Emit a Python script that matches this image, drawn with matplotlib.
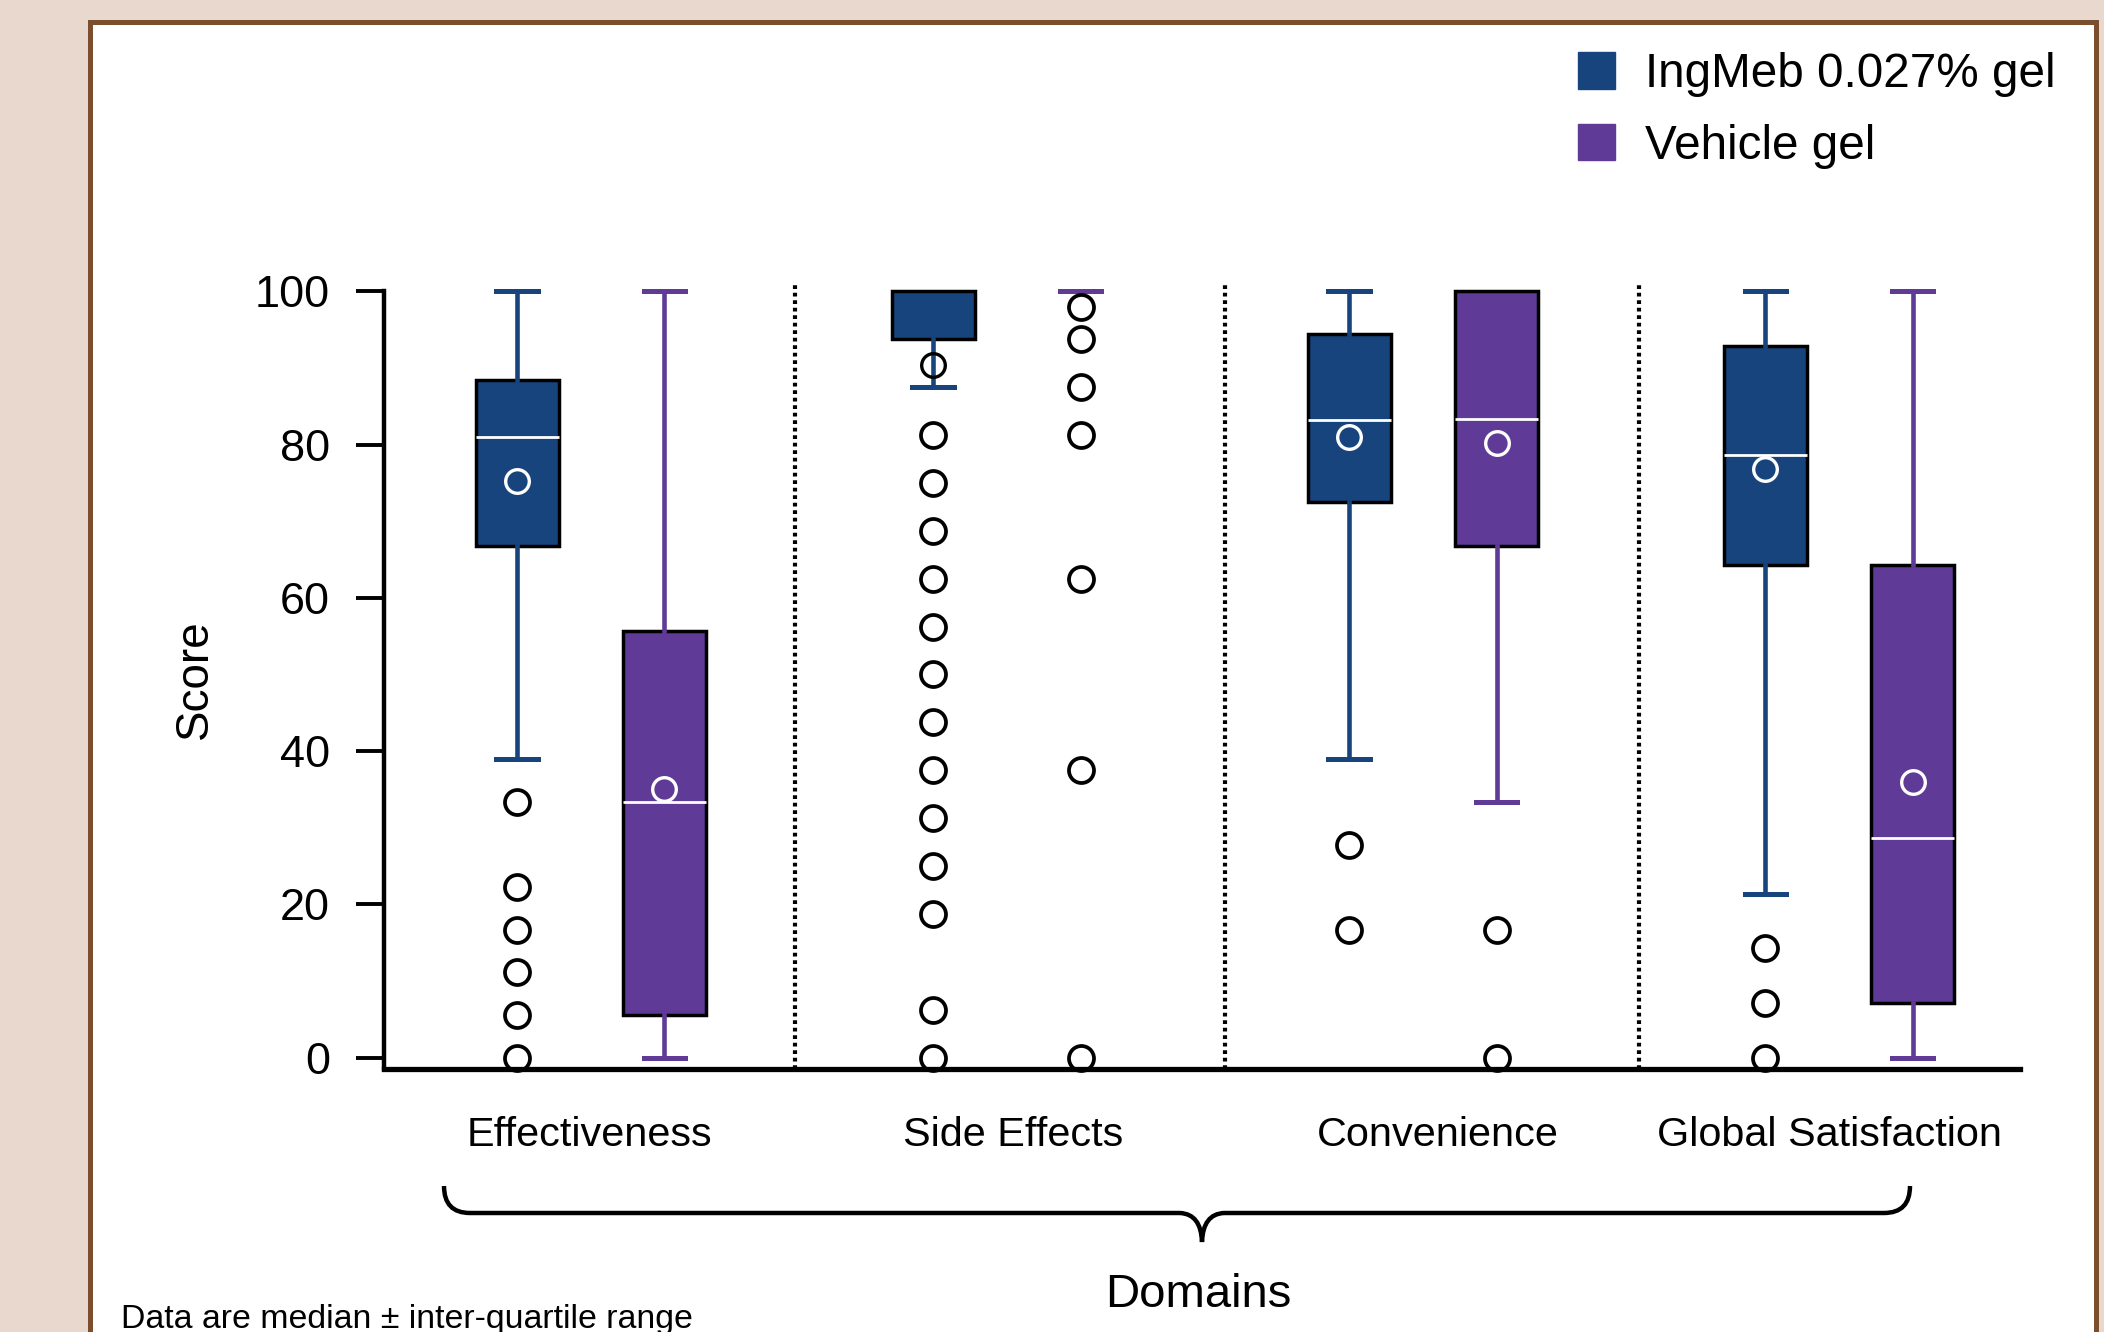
import numpy as np
import matplotlib
matplotlib.use("Agg")
import matplotlib.pyplot as plt
from matplotlib.patches import Patch, Rectangle, PathPatch
from matplotlib.path import Path
from matplotlib.transforms import Affine2D

plt.rcParams['font.family'] = ['Liberation Sans', 'DejaVu Sans']

# ---- data ----
domains = ['Effectiveness', 'Side Effects', 'Convenience', 'Global Satisfaction']
groups = ['IngMeb 0.027% gel', 'Vehicle gel']

# IngMeb 0.027% gel
ing_q1 = [66.7, 93.75, 72.5, 64.3]
ing_med = [81.0, 100.0, 83.2, 78.6]
ing_q3 = [88.4, 100.0, 94.4, 92.9]
ing_lo = [38.9, 87.5, 38.9, 21.4]
ing_hi = [100.0, 100.0, 100.0, 100.0]
ing_mean = [75.2, 90.4, 81.0, 76.8]
ing_fliers = [
    [33.3, 22.2, 16.7, 11.1, 5.6, 0.0],
    [81.25, 75.0, 68.75, 62.5, 56.25, 50.0, 43.75, 37.5, 31.25, 25.0, 18.75, 6.25, 0.0],
    [27.8, 16.7],
    [14.3, 7.1, 0.0],
]

# Vehicle gel
veh_q1 = [5.6, 100.0, 66.7, 7.1]
veh_med = [33.3, 100.0, 83.3, 28.6]
veh_q3 = [55.6, 100.0, 100.0, 64.3]
veh_lo = [0.0, 100.0, 33.3, 0.0]
veh_hi = [100.0, 100.0, 100.0, 100.0]
veh_mean = [35.0, None, 80.2, 36.0]
veh_fliers = [
    [],
    [98.0, 93.75, 87.5, 81.25, 62.5, 37.5, 0.0],
    [16.7, 0.0],
    [],
]

navy = '#18447E'
purple = '#5F3A96'
beige = '#E8D8CE'
brown = '#7B4F2E'

W, H = 2104, 1332
fig = plt.figure(figsize=(W / 100, H / 100), dpi=100, facecolor=beige)

# pixel (from top-left) -> figure transform
px = Affine2D().scale(1 / W, -1 / H).translate(0, 1) + fig.transFigure

# white panel with brown border
fig.patches.append(Rectangle((89.5, 21.5), 2006, 1400, transform=px,
                             facecolor='white', edgecolor=brown, lw=3.6, zorder=-5))

ax = fig.add_axes([384 / W, 1 - 1069 / H, 1636 / W, 780 / H])
ax.patch.set_alpha(0)

x = np.arange(len(domains))
off = 0.177


def draw_box(pos, q1, med, q3, lo, hi, mean, fliers, color, mean_edge):
    st = dict(q1=q1, med=med, q3=q3, whislo=lo, whishi=hi, fliers=fliers)
    if mean is not None:
        st['mean'] = mean
    art = ax.bxp([st], positions=[pos], widths=0.2, capwidths=0.1,
                 patch_artist=True, showmeans=mean is not None,
                 boxprops=dict(facecolor=color, edgecolor='black', lw=2.5),
                 whiskerprops=dict(color=color, lw=3.3),
                 capprops=dict(color=color, lw=3.6),
                 medianprops=dict(color='white', lw=2),
                 meanprops=dict(marker='o', markerfacecolor='none',
                                markeredgecolor=mean_edge, markersize=17,
                                markeredgewidth=2.4),
                 flierprops=dict(marker='o', markerfacecolor='none',
                                 markeredgecolor='black', markersize=18,
                                 markeredgewidth=2.7))
    if q3 >= hi:
        art['caps'][1].set_visible(False)
    if med >= q3 or med <= q1:
        art['medians'][0].set_visible(False)
    if q1 == q3:
        art['boxes'][0].set_visible(False)
        art['caps'][1].set_visible(True)
    for a in art['fliers'] + art['means'] + art['caps'] + art['whiskers']:
        a.set_clip_on(False)


for i in range(len(domains)):
    inside = ing_q1[i] <= ing_mean[i] <= ing_q3[i]
    draw_box(x[i] - off, ing_q1[i], ing_med[i], ing_q3[i], ing_lo[i], ing_hi[i],
             ing_mean[i], ing_fliers[i], navy, 'white' if inside else 'black')
    draw_box(x[i] + off, veh_q1[i], veh_med[i], veh_q3[i], veh_lo[i], veh_hi[i],
             veh_mean[i], veh_fliers[i], purple, 'white')

# dotted separators between domains
ax.vlines([0.49, 1.525, 2.52], -1.5, 101, colors='black', linestyles=(0, (0.9, 0.9)),
          lw=3, clip_on=False)

ax.set_xlim(-0.497, 3.435)
ax.set_ylim(-1.5, 100.3)
ax.set_yticks([0, 20, 40, 60, 80, 100])
# domain labels sit slightly off the group centres in the original
ax.set_xticks([-0.003, 1.016, 2.035, 2.977])
ax.set_xticklabels(domains, fontsize=29.8)
ax.tick_params(axis='x', length=0, pad=34)
ax.tick_params(axis='y', length=20, width=2.8, pad=19, labelsize=32.5, direction='out')
for s in ['top', 'right']:
    ax.spines[s].set_visible(False)
ax.spines['left'].set_linewidth(3.2)
ax.spines['left'].set_bounds(-1.5, 100)
ax.spines['bottom'].set_linewidth(3.8)
ax.set_ylabel('Score', fontsize=33)
ax.yaxis.set_label_coords(-0.102, 0.5)

# curly brace under the domain labels
verts = [(444, 1186), (444, 1213), (470, 1213),
         (1180, 1213), (1201, 1214), (1202, 1242),
         (1203, 1214), (1224, 1213),
         (1884, 1213), (1910, 1213), (1910, 1186)]
codes = [Path.MOVETO, Path.CURVE3, Path.CURVE3,
         Path.LINETO, Path.CURVE3, Path.CURVE3,
         Path.CURVE3, Path.CURVE3,
         Path.LINETO, Path.CURVE3, Path.CURVE3]
fig.patches.append(PathPatch(Path(verts, codes), transform=px, facecolor='none',
                             edgecolor='black', lw=3.2, zorder=3))

fig.text(1198, 1295, 'Domains', transform=px, ha='center', va='center', fontsize=34)
fig.text(121, 1328, 'Data are median \u00b1 inter-quartile range', transform=px,
         ha='left', va='baseline', fontsize=24.4)

handles = [Patch(facecolor=navy, edgecolor=navy), Patch(facecolor=purple, edgecolor=purple)]
fig.legend(handles, groups, loc='upper left', bbox_to_anchor=(1578 / W, 1 - 52 / H),
           frameon=False, fontsize=34.3, handlelength=0.78, handleheight=0.8,
           handletextpad=0.62, labelspacing=0.56, borderpad=0, borderaxespad=0)

fig.savefig('out.png', dpi=100, facecolor=beige)
